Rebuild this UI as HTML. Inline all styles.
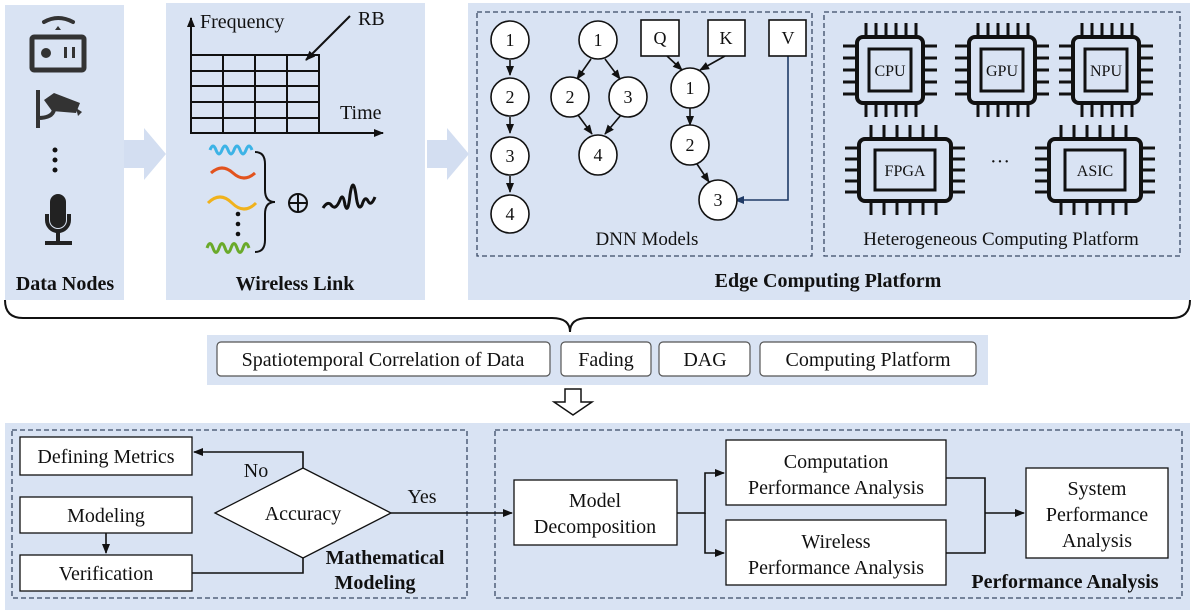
<!DOCTYPE html>
<html><head><meta charset="utf-8"><style>
html,body{margin:0;padding:0;background:#fff}
svg{display:block}
text{font-family:"Liberation Serif",serif;fill:#111}
</style></head><body>
<svg width="1196" height="615" viewBox="0 0 1196 615" xmlns="http://www.w3.org/2000/svg">
<defs>
<marker id="a" markerWidth="10" markerHeight="10" refX="9" refY="5" orient="auto" markerUnits="userSpaceOnUse"><path d="M0,1 L10,5 L0,9 z" fill="#111"/></marker>
<marker id="an" markerWidth="10" markerHeight="10" refX="9" refY="5" orient="auto" markerUnits="userSpaceOnUse"><path d="M0,1 L10,5 L0,9 z" fill="#1f3a66"/></marker>
<g id="chip">
<rect x="-33" y="-33" width="66" height="66" rx="6" fill="none" stroke="#111" stroke-width="4"/>
<rect x="-21" y="-21" width="42" height="42" fill="none" stroke="#111" stroke-width="3"/>
<g stroke="#111" stroke-width="3">
<path d="M-24,-35v-12M-14,-35v-12M-4,-35v-12M6,-35v-12M16,-35v-12M26,-35v-12"/>
<path d="M-24,35v12M-14,35v12M-4,35v12M6,35v12M16,35v12M26,35v12"/>
<path d="M-35,-24h-12M-35,-12h-12M-35,0h-12M-35,12h-12M-35,24h-12"/>
<path d="M35,-24h12M35,-12h12M35,0h12M35,12h12M35,24h12"/>
</g></g>
<g id="chip2">
<rect x="-46" y="-31" width="92" height="62" rx="6" fill="none" stroke="#111" stroke-width="4"/>
<rect x="-30" y="-20" width="60" height="40" fill="none" stroke="#111" stroke-width="3"/>
<g stroke="#111" stroke-width="3">
<path d="M-34,-33v-12M-21,-33v-12M-8,-33v-12M5,-33v-12M18,-33v-12M31,-33v-12"/>
<path d="M-34,33v12M-21,33v12M-8,33v12M5,33v12M18,33v12M31,33v12"/>
<path d="M-48,-22h-12M-48,-11h-12M-48,0h-12M-48,11h-12M-48,22h-12"/>
<path d="M48,-22h12M48,-11h12M48,0h12M48,11h12M48,22h12"/>
</g></g>
</defs>
<g fill="#d9e3f3">
<rect x="5" y="5" width="119" height="295"/>
<rect x="166" y="3" width="259" height="297"/>
<rect x="468" y="3" width="722" height="297"/>
<rect x="207" y="335" width="781" height="50"/>
<rect x="5" y="423" width="1185" height="187"/>
<path d="M124,140h20v-12l22,26l-22,26v-12h-20z" fill="#d3def1"/>
<path d="M427,140h20v-12l22,26l-22,26v-12h-20z" fill="#d3def1"/>
</g>
<!-- Data nodes -->
<path d="M44,22 Q58,14 73,22" fill="none" stroke="#333" stroke-width="4" stroke-linecap="round"/>
<path d="M55,30 l3,-4 l3,4z" fill="#333"/>
<rect x="32" y="37" width="52" height="33" rx="2" fill="none" stroke="#333" stroke-width="5"/>
<circle cx="46" cy="53" r="5" fill="#333"/>
<rect x="64" y="47" width="3" height="11" fill="#333"/><rect x="72" y="47" width="3" height="11" fill="#333"/>
<path d="M38,90v38M38,118 q14,0 16,-8" stroke="#333" stroke-width="4" fill="none"/>
<path d="M44,100 l10,-7 l26,10 l-4,10 l-24,-2z" fill="#333"/><path d="M76,108 l6,4 l-4,4z" fill="#333"/>
<circle cx="55" cy="150" r="2.5" fill="#111"/><circle cx="55" cy="160" r="2.5" fill="#111"/><circle cx="55" cy="170" r="2.5" fill="#111"/>
<rect x="50" y="194" width="16" height="34" rx="8" fill="#222"/>
<path d="M47,214 v6 a11,11 0 0 0 22,0 v-6" fill="none" stroke="#222" stroke-width="4"/>
<path d="M58,231v11M45,243h27" stroke="#222" stroke-width="4"/>
<text x="65" y="290" font-size="20" font-weight="bold" text-anchor="middle">Data Nodes</text>
<!-- Wireless -->
<path d="M191,133V18" stroke="#111" stroke-width="2" marker-end="url(#a)"/>
<path d="M191,133H383" stroke="#111" stroke-width="2" marker-end="url(#a)"/>
<g stroke="#111" stroke-width="2" fill="none">
<rect x="191" y="55" width="128" height="78"/>
<path d="M223,55v78M255,55v78M287,55v78M191,71h128M191,86h128M191,102h128M191,118h128"/>
</g>
<path d="M350,16L306,60" stroke="#111" stroke-width="2" marker-end="url(#a)"/>
<text x="200" y="28" font-size="20">Frequency</text>
<text x="358" y="25" font-size="20">RB</text>
<text x="340" y="119" font-size="20">Time</text>
<path d="M210,150 q3,-8 6,0 t6,0 t6,0 t6,0 t6,0 t6,0 t6,0" stroke="#3cb3e6" stroke-width="3" fill="none"/>
<path d="M211,173 q11,-10 22,0 t22,0" stroke="#e2531e" stroke-width="3" fill="none"/>
<path d="M208,203 q12,-12 24,0 t24,0" stroke="#f0b21c" stroke-width="3" fill="none"/>
<circle cx="238" cy="214" r="2.3" fill="#111"/><circle cx="238" cy="224" r="2.3" fill="#111"/><circle cx="238" cy="234" r="2.3" fill="#111"/>
<path d="M207,248 q3,-9 6,0 t6,0 t6,0 t6,0 t6,0 t6,0 t6,0" stroke="#6aaa2a" stroke-width="3" fill="none"/>
<path d="M255,152 q10,0 10,12 v26 q0,12 10,12 q-10,0 -10,12 v26 q0,12 -10,12" stroke="#111" stroke-width="2" fill="none"/>
<circle cx="298" cy="203" r="9" fill="none" stroke="#111" stroke-width="2"/><path d="M289,203h18M298,194v18" stroke="#111" stroke-width="2"/>
<path d="M323,208 q5,-8 9,-2 q4,4 8,-6 q3,-8 5,5 q3,10 5,-10 q3,-20 6,0 q2,17 6,10 q3,-10 6,-4 q3,6 7,-4" stroke="#111" stroke-width="3" fill="none"/>
<text x="295" y="290" font-size="20" font-weight="bold" text-anchor="middle">Wireless Link</text>
<!-- Edge -->
<g fill="none" stroke="#3a4a66" stroke-width="1.3" stroke-dasharray="5,3">
<rect x="477" y="12" width="335" height="244"/><rect x="824" y="12" width="356" height="244"/>
<rect x="12" y="430" width="455" height="168"/><rect x="495" y="430" width="687" height="168"/>
</g>
<g stroke="#111" stroke-width="1.6" fill="none">
<path d="M510,60v15" marker-end="url(#a)"/><path d="M510,117v16" marker-end="url(#a)"/><path d="M510,176v16" marker-end="url(#a)"/>
<path d="M591,59L577,79" marker-end="url(#a)"/><path d="M605,59L620,79" marker-end="url(#a)"/>
<path d="M578,115L592,134" marker-end="url(#a)"/><path d="M621,115L605,134" marker-end="url(#a)"/>
<path d="M667,56L682,70" marker-end="url(#a)"/><path d="M725,56L700,70" marker-end="url(#a)"/>
<path d="M690,108v17" marker-end="url(#a)"/><path d="M697,164L709,182" marker-end="url(#a)"/>
</g>
<path d="M788,56V200H735" stroke="#1f3a66" stroke-width="1.6" fill="none" marker-end="url(#an)"/>
<g fill="#fff" stroke="#111" stroke-width="1.6">
<ellipse cx="510" cy="40" rx="19" ry="19"/><ellipse cx="510" cy="97" rx="19" ry="19"/><ellipse cx="510" cy="156" rx="19" ry="19"/><ellipse cx="510" cy="214" rx="19" ry="19"/>
<ellipse cx="598" cy="40" rx="19" ry="19"/><ellipse cx="570" cy="97" rx="19" ry="20"/><ellipse cx="628" cy="97" rx="19" ry="20"/><ellipse cx="598" cy="155" rx="19" ry="20"/>
<ellipse cx="690" cy="88" rx="19" ry="20"/><ellipse cx="690" cy="145" rx="19" ry="20"/><ellipse cx="718" cy="200" rx="19" ry="20"/>
<rect x="641" y="20" width="38" height="36"/><rect x="708" y="20" width="37" height="36"/><rect x="769" y="20" width="37" height="36"/>
</g>
<g font-size="18" text-anchor="middle">
<text x="510" y="46">1</text><text x="510" y="103">2</text><text x="510" y="162">3</text><text x="510" y="220">4</text>
<text x="598" y="46">1</text><text x="570" y="103">2</text><text x="628" y="103">3</text><text x="598" y="161">4</text>
<text x="690" y="94">1</text><text x="690" y="151">2</text><text x="718" y="206">3</text>
<text x="660" y="44">Q</text><text x="726" y="44">K</text><text x="788" y="44">V</text>
<text x="647" y="245" font-size="19">DNN Models</text>
<text x="1001" y="245" font-size="19">Heterogeneous Computing Platform</text>
</g>
<use href="#chip" x="890" y="70"/><use href="#chip" x="1002" y="70"/><use href="#chip" x="1106" y="70"/>
<use href="#chip2" x="905" y="170"/><use href="#chip2" x="1095" y="170"/>
<g font-size="16" text-anchor="middle">
<text x="890" y="76">CPU</text><text x="1002" y="76">GPU</text><text x="1106" y="76">NPU</text>
<text x="905" y="176">FPGA</text><text x="1095" y="176">ASIC</text>
</g>
<text x="1000" y="168" font-size="20" text-anchor="middle">···</text>
<text x="828" y="287" font-size="20" font-weight="bold" text-anchor="middle">Edge Computing Platform</text>
<!-- Brace -->
<path d="M5,300 q0,18 18,18 H552 q18,0 18,14 q0,-14 18,-14 H1172 q18,0 18,-18" stroke="#111" stroke-width="2" fill="none"/>
<!-- Middle -->
<g fill="#fff" stroke="#555" stroke-width="1.2">
<rect x="217" y="342" width="333" height="34" rx="4"/><rect x="561" y="342" width="90" height="34" rx="4"/>
<rect x="659" y="342" width="91" height="34" rx="4"/><rect x="760" y="342" width="216" height="34" rx="4"/>
</g>
<g font-size="20" text-anchor="middle">
<text x="383" y="366">Spatiotemporal Correlation of Data</text><text x="606" y="366">Fading</text>
<text x="705" y="366">DAG</text><text x="868" y="366">Computing Platform</text>
</g>
<path d="M565,389h16v13h11l-19,13l-19,-13h11z" fill="#fff" stroke="#111" stroke-width="1.5"/>
<!-- Bottom -->
<g stroke="#111" stroke-width="1.6" fill="none">
<path d="M303,468V452H194" marker-end="url(#a)"/>
<path d="M192,573H303V558"/>
<path d="M106,533v20" marker-end="url(#a)"/>
<path d="M391,513H512" marker-end="url(#a)"/>
<path d="M677,513H705V473H724" marker-end="url(#a)"/><path d="M705,513V553H724" marker-end="url(#a)"/>
<path d="M946,478H985V553H946"/><path d="M985,513H1024" marker-end="url(#a)"/>
</g>
<g fill="#fff" stroke="#111" stroke-width="1.3">
<rect x="20" y="437" width="172" height="38"/><rect x="20" y="497" width="172" height="36"/><rect x="20" y="555" width="172" height="36"/>
<path d="M215,513L303,468L391,513L303,558z"/>
<rect x="514" y="480" width="163" height="65"/><rect x="726" y="440" width="220" height="65"/><rect x="726" y="520" width="220" height="65"/><rect x="1026" y="468" width="142" height="90"/>
</g>
<g font-size="20" text-anchor="middle">
<text x="106" y="463">Defining Metrics</text><text x="106" y="522">Modeling</text><text x="106" y="580">Verification</text>
<text x="303" y="520">Accuracy</text><text x="256" y="477">No</text><text x="422" y="503">Yes</text>
<text x="595" y="507">Model</text><text x="595" y="533">Decomposition</text>
<text x="836" y="468">Computation</text><text x="836" y="494">Performance Analysis</text>
<text x="836" y="548">Wireless</text><text x="836" y="574">Performance Analysis</text>
<text x="1097" y="495">System</text><text x="1097" y="521">Performance</text><text x="1097" y="547">Analysis</text>
</g>
<g font-size="20" font-weight="bold" text-anchor="middle">
<text x="385" y="564">Mathematical</text><text x="375" y="589">Modeling</text>
<text x="1065" y="588">Performance Analysis</text>
</g>
</svg>
</body></html>
